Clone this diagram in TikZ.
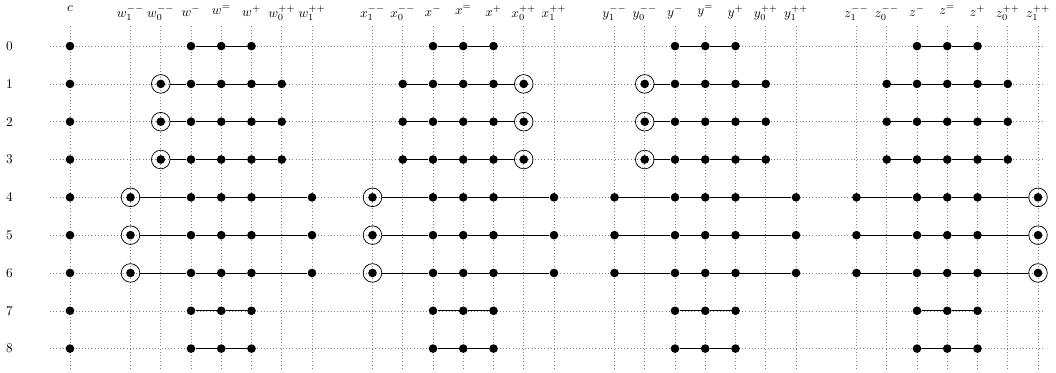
\documentclass[tikz,border=0pt]{standalone}
\usepackage{amsmath}
\usetikzlibrary{positioning}
\tikzset{
  grid line/.style={dotted,gray,line width=0.4pt},
  dot/.style={circle,fill,inner sep=0pt,minimum size=6.5pt},
  ring/.style={circle,draw,inner sep=0pt,minimum size=14pt,line width=0.55pt},
  link/.style={line width=0.6pt},
  collabel/.style={anchor=north,inner sep=0pt},
  rowlabel/.style={inner sep=0pt},
}

\begin{document}
\begin{tikzpicture}[x=0.8cm,y=-1cm]
  \useasboundingbox (-2.314,-1.219) rectangle (32.595,8.636);
  % rows: number and dotted line
  \foreach \r in {0,...,8} {
    \node[rowlabel] (row-\r) at (-2,\r) {\r};
    \draw[grid line] (-0.66,\r) -- (32.2,\r);
  }
  % column c
  \node[collabel] (h-c) at (0,-1.07) {$c$};
  \draw[grid line] (0,-0.52) -- (0,8.55);
  \foreach \r in {0,...,8}
    \node[dot] (c-\r) at (0,\r) {};
  % the four groups, ring position for rows 1-3 and rows 4-6
  \foreach \v/\rb/\rc [count=\g from 0] in {w/1/0,x/5/0,y/1/-1,z/-1/6} {
    \pgfmathtruncatemacro\o{2+8*\g}
    \foreach \s [count=\k from 0] in {_1^{--},_0^{--},^-,^=,^+,_0^{++},_1^{++}} {
      \node[collabel] (h-\v-\k) at (\o+\k,-1.07) {$\v\s$};
      \draw[grid line] (\o+\k,-0.52) -- (\o+\k,8.55);
    }
    % rows 0, 7, 8
    \foreach \r in {0,7,8} {
      \foreach \k in {2,3,4}
        \node[dot] (\v-\k-\r) at (\o+\k,\r) {};
      \draw[link] (\v-2-\r) -- (\v-3-\r) -- (\v-4-\r);
    }
    % rows 1-3
    \foreach \r in {1,2,3} {
      \foreach \k in {1,...,5} {
        \ifnum\k=\rb
          \node[dot] (\v-\k-\r-in) at (\o+\k,\r) {};
          \node[ring] (\v-\k-\r) at (\o+\k,\r) {};
        \else
          \node[dot] (\v-\k-\r) at (\o+\k,\r) {};
        \fi
      }
      \draw[link] (\v-1-\r) -- (\v-2-\r) -- (\v-3-\r) -- (\v-4-\r) -- (\v-5-\r);
    }
    % rows 4-6
    \foreach \r in {4,5,6} {
      \foreach \k in {0,2,3,4,6} {
        \ifnum\k=\rc
          \node[dot] (\v-\k-\r-in) at (\o+\k,\r) {};
          \node[ring] (\v-\k-\r) at (\o+\k,\r) {};
        \else
          \node[dot] (\v-\k-\r) at (\o+\k,\r) {};
        \fi
      }
      \draw[link] (\v-0-\r) -- (\v-2-\r) -- (\v-3-\r) -- (\v-4-\r) -- (\v-6-\r);
    }
  }
\end{tikzpicture}
\end{document}
